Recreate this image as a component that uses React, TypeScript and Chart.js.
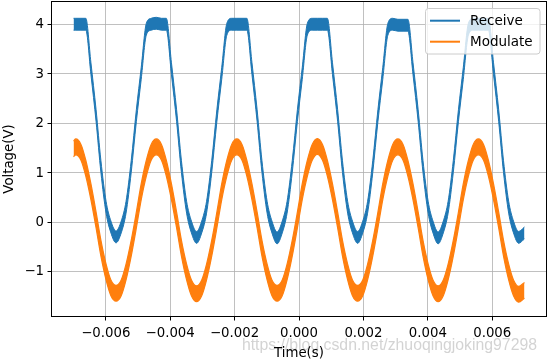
import { useEffect, useRef } from 'react';
import { Chart, registerables } from 'chart.js';

Chart.register(...registerables);

// Sample times in milliseconds
const TIME_MS = [
  -7.0,
  -6.93, -6.77, -6.62, -6.46, -6.3, -6.15, -5.99, -5.84, -5.68, -5.52, -5.37, -5.21, -5.05, -4.9, -4.74, -4.59,
  -4.43, -4.27, -4.12, -3.96, -3.8, -3.65, -3.49, -3.34, -3.18, -3.02, -2.87, -2.71, -2.55, -2.4, -2.24, -2.09,
  -1.93, -1.77, -1.62, -1.46, -1.3, -1.15, -0.99, -0.84, -0.68, -0.52, -0.37, -0.21, -0.05, 0.1, 0.26, 0.41,
  0.57, 0.73, 0.88, 1.04, 1.2, 1.35, 1.51, 1.66, 1.82, 1.98, 2.13, 2.29, 2.45, 2.6, 2.76, 2.91,
  3.07, 3.23, 3.38, 3.54, 3.7, 3.85, 4.01, 4.16, 4.32, 4.48, 4.63, 4.79, 4.95, 5.1, 5.26, 5.41,
  5.57, 5.73, 5.88, 6.04, 6.2, 6.35, 6.51, 6.66, 6.82,
  7.0,
];

// Receive trace (centre of the noisy band, volts)
const RECEIVE = [
  4.0,
  4.0, 4.0, 4.0, 3.1, 2.15, 1.12, 0.3, -0.1, -0.3, -0.1, 0.3, 1.12, 2.15, 3.0, 3.9, 4.0,
  4.02, 4.0, 4.0, 3.1, 2.15, 1.12, 0.3, -0.1, -0.31, -0.1, 0.3, 1.12, 2.15, 3.0, 3.9, 4.0,
  4.0, 4.0, 4.0, 3.1, 2.15, 1.12, 0.3, -0.1, -0.32, -0.1, 0.3, 1.12, 2.15, 3.0, 3.9, 4.0,
  4.0, 4.0, 4.0, 3.1, 2.15, 1.12, 0.3, -0.1, -0.31, -0.1, 0.3, 1.12, 2.15, 3.0, 3.9, 4.0,
  3.98, 3.98, 3.98, 3.1, 2.15, 1.12, 0.3, -0.1, -0.32, -0.1, 0.3, 1.12, 2.15, 3.0, 3.9, 4.0,
  4.0, 4.0, 4.0, 3.1, 2.15, 1.12, 0.3, -0.1, -0.31,
  -0.22,
];

// Modulate trace (centre of the noisy band, volts)
const MODULATE = [
  1.48,
  1.52, 1.41, 1.09, 0.61, 0.04, -0.53, -1.01, -1.33, -1.44, -1.33, -1.01, -0.53, 0.04, 0.61, 1.09, 1.41,
  1.52, 1.41, 1.09, 0.61, 0.04, -0.53, -1.01, -1.33, -1.45, -1.33, -1.01, -0.53, 0.04, 0.61, 1.09, 1.41,
  1.52, 1.41, 1.09, 0.61, 0.04, -0.53, -1.01, -1.33, -1.44, -1.33, -1.01, -0.53, 0.04, 0.61, 1.09, 1.41,
  1.53, 1.41, 1.09, 0.61, 0.04, -0.53, -1.01, -1.33, -1.44, -1.33, -1.01, -0.53, 0.04, 0.61, 1.09, 1.41,
  1.52, 1.41, 1.09, 0.61, 0.04, -0.53, -1.01, -1.33, -1.45, -1.33, -1.01, -0.53, 0.04, 0.61, 1.09, 1.41,
  1.52, 1.41, 1.09, 0.61, 0.04, -0.53, -1.01, -1.33, -1.46,
  -1.38,
];

// Half peak-to-peak noise of each trace (volts)
const RECEIVE_NOISE = 0.12;
const MODULATE_NOISE = 0.16;

const SERIES_NAMES = ['Receive', 'Modulate'];
const X_TICKS = [-0.006, -0.004, -0.002, 0, 0.002, 0.004, 0.006];
const Y_TICKS = [-1, 0, 1, 2, 3, 4];
const X_LABEL = 'Time(s)';
const Y_LABEL = 'Voltage(V)';
const WATERMARK = 'https://blog.csdn.net/zhuoqingjoking97298';

const BLUE = '#1f77b4';
const ORANGE = '#ff7f0e';
const FONT = '"DejaVu Sans", sans-serif';
const FONT_SIZE = 13.3;

const fmt = (v: number, digits: number) => {
  const s = Math.abs(v).toFixed(digits);
  return v < -1e-12 ? '\u2212' + s : s;
};

const decorPlugin = {
  id: 'decor',
  beforeDraw(chart: any) {
    const ctx = chart.ctx;
    ctx.save();
    ctx.font = '15.8px "Liberation Sans", Arial, sans-serif';
    ctx.textAlign = 'right';
    ctx.textBaseline = 'alphabetic';
    ctx.fillStyle = 'rgba(150,150,150,0.42)';
    ctx.fillText(WATERMARK, 537, 350);
    ctx.restore();
  },
  afterDraw(chart: any) {
    const ctx = chart.ctx;
    const a = chart.chartArea;
    const xs = chart.scales.x;
    const ys = chart.scales.y;
    ctx.save();
    // frame (spines)
    ctx.strokeStyle = '#000';
    ctx.lineWidth = 1;
    ctx.strokeRect(Math.round(a.left) + 0.5, Math.round(a.top) + 0.5, Math.round(a.right - a.left) - 1, Math.round(a.bottom - a.top) - 1);

    // tick labels
    ctx.fillStyle = '#000';
    ctx.font = `${FONT_SIZE}px ${FONT}`;
    ctx.textBaseline = 'middle';
    ctx.textAlign = 'center';
    X_TICKS.forEach((v) => ctx.fillText(fmt(v, 3), xs.getPixelForValue(v), 333.5));
    ctx.textAlign = 'right';
    Y_TICKS.forEach((v) => ctx.fillText(fmt(v, 0), 44, ys.getPixelForValue(v) + 0.5));

    // axis titles
    ctx.textAlign = 'center';
    ctx.fillText(X_LABEL, (a.left + a.right) / 2, 354);
    ctx.save();
    ctx.translate(9.5, (a.top + a.bottom) / 2);
    ctx.rotate(-Math.PI / 2);
    ctx.fillText(Y_LABEL, 0, 0);
    ctx.restore();

    // legend
    const lx = 425.5, ly = 8.5, lw = 114.5, lh = 45.5, r = 3;
    ctx.beginPath();
    ctx.moveTo(lx + r, ly);
    ctx.lineTo(lx + lw - r, ly);
    ctx.quadraticCurveTo(lx + lw, ly, lx + lw, ly + r);
    ctx.lineTo(lx + lw, ly + lh - r);
    ctx.quadraticCurveTo(lx + lw, ly + lh, lx + lw - r, ly + lh);
    ctx.lineTo(lx + r, ly + lh);
    ctx.quadraticCurveTo(lx, ly + lh, lx, ly + lh - r);
    ctx.lineTo(lx, ly + r);
    ctx.quadraticCurveTo(lx, ly, lx + r, ly);
    ctx.closePath();
    ctx.fillStyle = 'rgba(255,255,255,0.8)';
    ctx.fill();
    ctx.strokeStyle = '#cccccc';
    ctx.lineWidth = 1;
    ctx.stroke();

    const colors = [BLUE, ORANGE];
    const rows = [20.7, 41.7];
    SERIES_NAMES.forEach((name, i) => {
      ctx.strokeStyle = colors[i];
      ctx.lineWidth = 2;
      ctx.beginPath();
      ctx.moveTo(430, rows[i]);
      ctx.lineTo(460, rows[i]);
      ctx.stroke();
      ctx.fillStyle = '#000';
      ctx.textAlign = 'left';
      ctx.textBaseline = 'middle';
      ctx.font = `13.5px ${FONT}`;
      ctx.fillText(name, 470, rows[i] + 0.5);
    });
    ctx.restore();
  },
};

export default function App() {
  const ref = useRef<HTMLCanvasElement>(null);

  useEffect(() => {
    const pts = (vals: number[], off: number) =>
      TIME_MS.map((t, i) => ({ x: t / 1000, y: vals[i] + off }));

    const band = (label: string, color: string, data: any, order: number, fill: any, w: number) => ({
      label,
      data,
      borderColor: color,
      backgroundColor: color,
      borderWidth: w,
      pointRadius: 0,
      cubicInterpolationMode: 'monotone',
      fill,
      order,
    });

    const grid = {
      color: '#b0b0b0',
      lineWidth: 0.8,
      tickColor: '#000',
      tickLength: 3.5,
      tickWidth: 1,
      drawTicks: true,
    };

    const chart = new Chart(ref.current as HTMLCanvasElement, {
      type: 'line',
      data: {
        datasets: [
          band(SERIES_NAMES[1], ORANGE, pts(MODULATE, MODULATE_NOISE), 0, '+1', 1.2),
          band(SERIES_NAMES[1] + ' low', ORANGE, pts(MODULATE, -MODULATE_NOISE), 0, false, 1.2),
          band(SERIES_NAMES[0], BLUE, pts(RECEIVE, RECEIVE_NOISE), 1, '+1', 1.0),
          band(SERIES_NAMES[0] + ' low', BLUE, pts(RECEIVE, -RECEIVE_NOISE), 1, false, 1.0),
        ] as any,
      },
      options: {
        responsive: false,
        animation: false,
        devicePixelRatio: 1,
        layout: { padding: { top: 1, right: 2, left: 0, bottom: 0 } },
        plugins: {
          legend: { display: false },
          tooltip: { enabled: false },
        },
        scales: {
          x: {
            type: 'linear',
            min: -0.0077,
            max: 0.0077,
            afterBuildTicks: (s: any) => {
              s.ticks = X_TICKS.map((v) => ({ value: v }));
            },
            afterFit: (s: any) => {
              s.height = 45;
            },
            grid,
            border: { display: false },
            ticks: { display: false },
          },
          y: {
            type: 'linear',
            min: -1.92,
            max: 4.47,
            afterBuildTicks: (s: any) => {
              s.ticks = Y_TICKS.map((v) => ({ value: v }));
            },
            afterFit: (s: any) => {
              s.width = 51;
            },
            grid,
            border: { display: false },
            ticks: { display: false },
          },
        },
      } as any,
      plugins: [decorPlugin],
    });
    return () => chart.destroy();
  }, []);

  return (
    <div style={{ position: 'absolute', left: 0, top: 0, width: 549, height: 362 }}>
      <canvas ref={ref} width={549} height={362} style={{ display: 'block' }} />
    </div>
  );
}
